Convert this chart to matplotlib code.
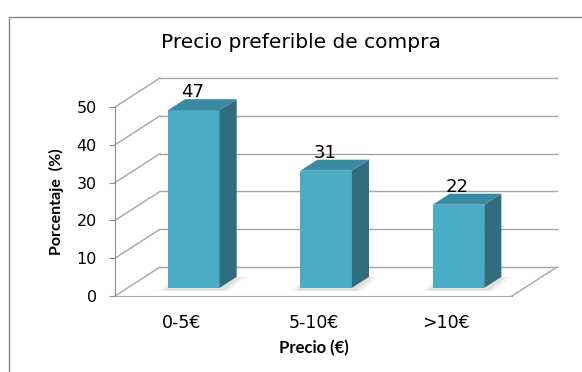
import matplotlib
matplotlib.use("Agg")
import matplotlib.pyplot as plt
from matplotlib.patches import Polygon, Rectangle

# datos del gráfico
categorias = ["0-5€", "5-10€", ">10€"]
porcentajes = [47, 31, 22]
yticks = [0, 10, 20, 30, 40, 50]

# estilo
c_front = "#4BACC6"
c_side = "#2F6D7E"
c_top = "#3A8BA2"
c_grid = "#A6A6A6"
c_axis = "#8C8C8C"

# perspectiva oblicua (en unidades de datos)
DX = 0.34      # desplazamiento en categorías de la pared trasera
DY = 7.67      # desplazamiento en valores de la pared trasera
f0 = 0.28      # profundidad de la cara frontal de la barra
dep = 0.38     # profundidad de la barra
ancho = 0.39

fig = plt.figure(figsize=(5.82, 3.72), dpi=100)
fig.patches.append(Rectangle((9 / 582, -0.1), 1.2, 1 - 17 / 372 + 0.1,
                             transform=fig.transFigure, fill=False,
                             edgecolor="#868686", linewidth=1.0))

ax = fig.add_axes([115 / 582, 76 / 372, 397 / 582, 189 / 372])
ax.set_xlim(-0.5, 2.5)
ax.set_ylim(0, 50)
ax.patch.set_visible(False)

# paredes: líneas de rejilla traseras y laterales
for v in yticks:
    ax.plot([-0.5 + DX, 2.5 + DX], [v + DY, v + DY], color=c_grid, lw=1.0, clip_on=False, zorder=1)
    ax.plot([-0.5, -0.5 + DX], [v, v + DY], color=c_grid, lw=1.0, clip_on=False, zorder=1)
ax.plot([2.5, 2.5 + DX], [0, DY], color=c_grid, lw=1.0, clip_on=False, zorder=1)

# barras 3D
for i, v in enumerate(porcentajes):
    x0 = i + f0 * DX - ancho / 2
    x1 = x0 + ancho
    y0 = f0 * DY
    y1 = v + f0 * DY
    ox, oy = dep * DX, dep * DY
    # sombra
    for k, a in [(0.07, 0.10), (0.035, 0.15)]:
        sh = Polygon([(x0 - k, y0 - 0.8), (x1 + k, y0 - 0.8), (x1 + ox + k, y0 + oy),
                      (x0 + ox - k, y0 + oy)], closed=True, facecolor="#7F7F7F",
                     alpha=a, edgecolor="none", clip_on=False, zorder=2)
        ax.add_patch(sh)
    ax.add_patch(Rectangle((x0, y0), ancho, v, facecolor=c_front, edgecolor="none",
                           clip_on=False, zorder=3))
    ax.add_patch(Polygon([(x1, y0), (x1 + ox, y0 + oy), (x1 + ox, y1 + oy), (x1, y1)],
                         closed=True, facecolor=c_side, edgecolor="none", clip_on=False, zorder=3))
    ax.add_patch(Polygon([(x0, y1), (x1, y1), (x1 + ox, y1 + oy), (x0 + ox, y1 + oy)],
                         closed=True, facecolor=c_top, edgecolor="none", clip_on=False, zorder=3))
    ax.annotate(str(v), xy=(i + f0 * DX - 0.01, y1), xytext=(0, 13), textcoords="offset points",
                ha="center", va="center", fontsize=13, family="DejaVu Sans", zorder=4)

# ejes
for s in ["top", "right"]:
    ax.spines[s].set_visible(False)
ax.spines["left"].set_color(c_axis)
ax.spines["bottom"].set_color(c_grid)
ax.set_yticks(yticks)
ax.set_yticklabels([str(t) for t in yticks], family="DejaVu Sans", fontsize=11.5)
ax.tick_params(axis="y", direction="out", length=4, color=c_axis, pad=9)
ax.set_xticks(range(len(categorias)))
ax.set_xticklabels(categorias, family="DejaVu Sans", fontsize=12.5)
ax.tick_params(axis="x", length=0, pad=13)

ax.set_ylabel("Porcentaje  (%)", family="Lato", fontweight="bold", fontsize=11.5, labelpad=9)
ax.set_xlabel("Precio (€)", family="Lato", fontweight="bold", fontsize=12, labelpad=6)

fig.text(301 / 582, 1 - 42 / 372, "Precio preferible de compra", ha="center", va="center",
         fontsize=14.5, family="DejaVu Sans")

plt.savefig("out.png", dpi=100)
plt.close()
